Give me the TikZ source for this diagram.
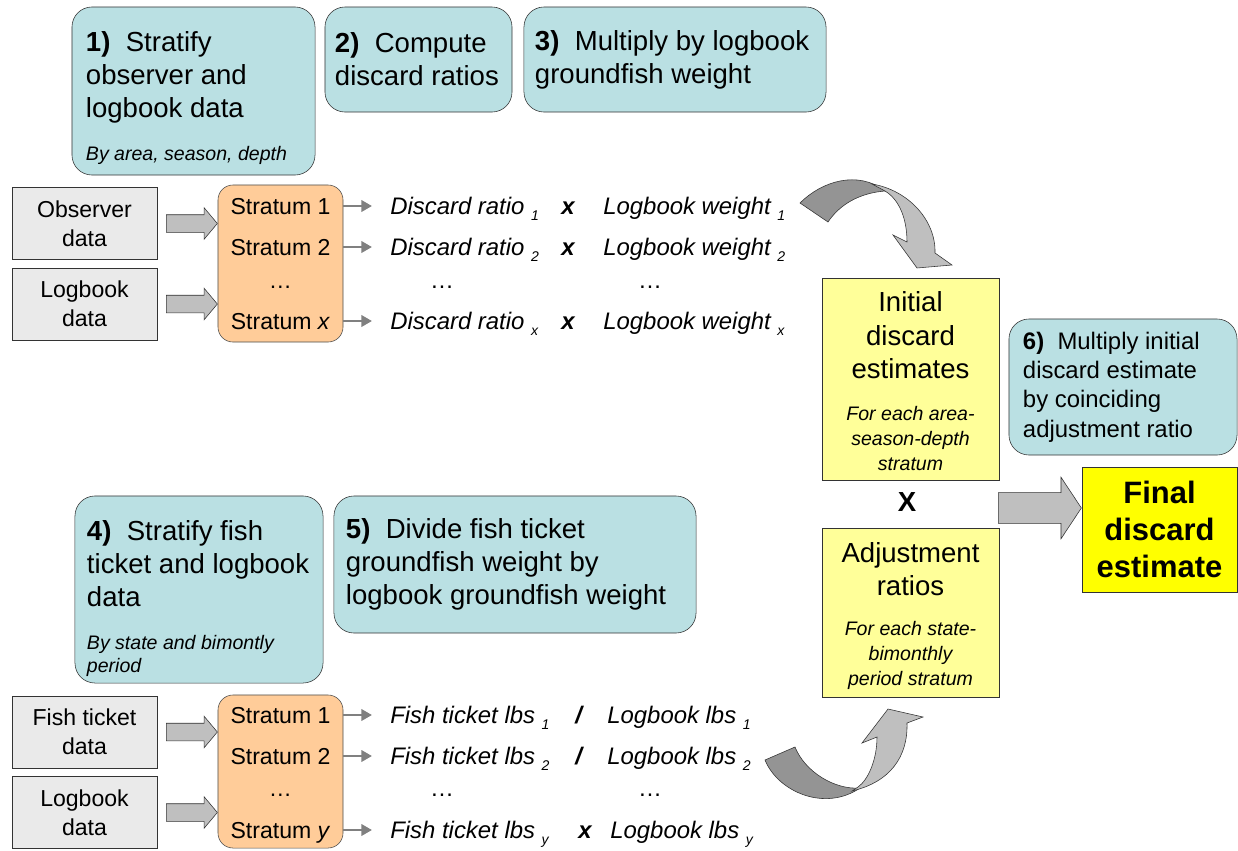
\documentclass[tikz,border=0pt]{standalone}
\usepackage{fontspec}
\setmainfont{Liberation Sans}
\usetikzlibrary{arrows.meta,shapes.arrows}

\definecolor{stepc}{RGB}{186,224,227}
\definecolor{stratc}{RGB}{255,204,153}
\definecolor{datac}{RGB}{234,234,234}
\definecolor{estc}{RGB}{255,255,153}
\definecolor{finalc}{RGB}{255,255,0}
\colorlet{fatc}{black!25}
\colorlet{backc}{black!42}
\colorlet{feedc}{black!50}

\newcommand\lowsub[1]{\ \raisebox{-4.5pt}{\fontsize{10}{10}\selectfont #1}}

\tikzstyle{stepbox} = [draw=black!80, fill=stepc, rounded corners=0.5cm, align=flush left,
  font=\fontsize{19.6}{23.6}\selectfont]
\tikzstyle{databox} = [draw=black!80, fill=datac, minimum width=3.625cm, minimum height=1.8cm,
  align=center, font=\fontsize{16.4}{20.6}\selectfont]
\tikzstyle{stratbox} = [draw=black!70, fill=stratc, rounded corners=0.375cm, minimum width=3.125cm]
\tikzstyle{stratlabel} = [inner sep=0, text height=11.7pt, text depth=0pt,
  font=\fontsize{16.4}{20}\selectfont]
\tikzstyle{rowtext} = [anchor=west, inner xsep=0.45cm, inner ysep=0, text height=12.2pt,
  text depth=0pt, font=\fontsize{17}{20}\selectfont\itshape]
\tikzstyle{estbox} = [draw=black!80, fill=estc, text width=4.025cm, inner xsep=0.2cm, align=flush center,
  font=\fontsize{19.6}{23.8}\selectfont]
\tikzstyle{blockarrow} = [single arrow, draw=black!80, fill=fatc, inner xsep=0, anchor=tip]
\tikzstyle{feed} = [draw=feedc, line width=1.8pt, -{Triangle[length=7.5pt,width=8pt]}]

\begin{document}
\begin{tikzpicture}[x=0.025cm, y=-0.025cm]
  \useasboundingbox (0,0) rectangle (1238,850);

  % Steps
  \node[stepbox, text width=5.375cm, inner xsep=0.35cm, minimum height=4.2cm] (step1) at (193.5,91)
    {{\rule{0pt}{24.3pt}\textbf{1)}\ \ Stratify\\ observer~and\\ logbook~data\par}\vspace{14.2pt}
     {\fontsize{13.9}{16.4}\selectfont\itshape By~area,~season,~depth\par}};
  \node[stepbox, text width=4.175cm, inner xsep=0.25cm, minimum height=2.625cm] (step2) at (418.5,59.5)
    {\textbf{2)}\ \ Compute\\ discard~ratios};
  \node[stepbox, text width=7.0cm, inner xsep=0.275cm, minimum height=2.625cm] (step3) at (675,59.5)
    {\textbf{3)}\ \ Multiply~by~logbook\\ groundfish~weight};
  \node[stepbox, text width=5.6cm, inner xsep=0.3cm, minimum height=4.675cm] (step4) at (199,589.5)
    {{\rule{0pt}{27.1pt}\textbf{4)}\ \ Stratify~fish\\ ticket~and~logbook\\ data\par}\vspace{14.2pt}
     {\fontsize{13.9}{16.4}\selectfont\itshape By~state~and~bimontly\\ period\par}};
  \node[stepbox, text width=8.45cm, inner xsep=0.3cm, minimum height=3.425cm] (step5) at (515,564.5)
    {\textbf{5)}\ \ Divide~fish~ticket\\ groundfish~weight~by\\ logbook~groundfish~weight};
  \node[stepbox, text width=5.0cm, inner xsep=0.35cm, minimum height=3.4cm,
    font=\fontsize{17}{20.8}\selectfont] (step6) at (1123,387)
    {\textbf{6)}\ \ Multiply~initial\\ discard~estimate\\ by~coinciding\\ adjustment~ratio};

  % Data sources
  \node[databox] (obs) at (84.5,223.5) {Observer\\ data};
  \node[databox] (logA) at (84.5,304) {Logbook\\ data};
  \node[databox] (fish) at (84.5,732) {Fish ticket\\ data};
  \node[databox] (logB) at (84.5,812.5) {Logbook\\ data};

  % Strata
  \node[stratbox, minimum height=3.925cm] (strA) at (280.5,263.5) {};
  \node[stratbox, minimum height=3.825cm] (strB) at (280.5,771.5) {};
  \foreach \src/\dst in {obs/strA, logA/strA, fish/strB, logB/strB}
    \node[blockarrow, minimum height=1.275cm, inner ysep=0.2125cm,
      single arrow head extend=0.175cm, single arrow tip angle=100] at (\dst.west |- \src) {};

  % Discard ratio rows
  \foreach \y/\lbl/\n in {206/1/1, 247/2/2, 321/\textit{x}/x} {
    \node[stratlabel] (sa\n) at (280.5,\y) {Stratum \lbl};
    \node[rowtext] (ra\n) at (372,\y)
      {\makebox[4.275cm][l]{Discard ratio\lowsub{\n}}\makebox[1.05cm][l]{\bfseries x}Logbook weight\lowsub{\n}};
    \draw[feed] (strA.east |- ra\n) -- (ra\n.west);
  }
  \node[stratlabel] (sad) at (280.5,280) {\dots};
  \node[stratlabel, font=\fontsize{17}{20}\selectfont] (rad1) at (442,280) {\dots};
  \node[stratlabel, font=\fontsize{17}{20}\selectfont] (rad2) at (650,280) {\dots};

  % Fish ticket rows
  \foreach \y/\lbl/\n/\op/\w in {715/1/1/\slash/4.625cm, 756/2/2/\slash/4.625cm, 830/\textit{y}/y/x/4.7cm} {
    \node[stratlabel] (sb\n) at (280.5,\y) {Stratum \lbl};
    \node[rowtext] (rb\n) at (372,\y)
      {\makebox[\w][l]{Fish ticket lbs\lowsub{\n}}\makebox[0.8cm][l]{\bfseries \op}Logbook lbs\lowsub{\n}};
    \draw[feed] (strB.east |- rb\n) -- (rb\n.west);
  }
  \node[stratlabel] (sbd) at (280.5,788) {\dots};
  \node[stratlabel, font=\fontsize{17}{20}\selectfont] (rbd1) at (442,788) {\dots};
  \node[stratlabel, font=\fontsize{17}{20}\selectfont] (rbd2) at (650,788) {\dots};

  % Estimates
  \node[estbox, minimum height=5.05cm] (init) at (910.5,379)
    {{\rule{0pt}{17.3pt}Initial\\ discard\\ estimates\par}\vspace{12.1pt}
     {\fontsize{13.9}{17.8}\selectfont\itshape For each area-\\ season-depth\\ stratum\par}};
  \node[font=\fontsize{19.6}{24}\selectfont\bfseries] (times) at (907,502) {X};
  \node[estbox, minimum height=4.225cm] (adj) at (910.5,612.5)
    {{\rule{0pt}{19.3pt}Adjustment\\ ratios\par}\vspace{10.6pt}
     {\fontsize{13.9}{17.8}\selectfont\itshape For each state-\\ bimonthly\\ period stratum\par}};
  \node[draw=black!80, fill=finalc, minimum width=3.875cm, minimum height=3.125cm, align=center,
    font=\fontsize{22}{26.3}\selectfont\bfseries] (final) at (1159.5,529.5) {Final\\ discard\\ estimate};
  \node[blockarrow, minimum height=2.075cm, inner ysep=0.375cm,
    single arrow head extend=0.3875cm, single arrow tip angle=113] (toFinal) at ([yshift=0.5375cm]final.west) {};

  % Curved arrows
  \draw[draw=black!80, fill=backc] (800,203) .. controls (822,181) and (858,170) .. (885,191)
    .. controls (860,193) and (840,204) .. (828,222) -- cycle;
  \draw[draw=black!80, fill=fatc] (872,184) .. controls (908,190) and (936,220) .. (935,253)
    -- (952,265) -- (917,268) -- (893,235) -- (907,242)
    .. controls (907,220) and (900,200) .. (885,191) -- cycle;
  \draw[draw=black!80, fill=backc] (765,760) .. controls (778,792) and (825,812) .. (860,788)
    .. controls (835,790) and (805,772) .. (795,747) -- cycle;
  \draw[draw=black!80, fill=fatc] (852,791) .. controls (890,782) and (908,757) .. (907,723)
    -- (923,717) -- (888,709) -- (862,743) -- (877,737)
    .. controls (877,760) and (868,780) .. (858,787) -- cycle;
\end{tikzpicture}
\end{document}
